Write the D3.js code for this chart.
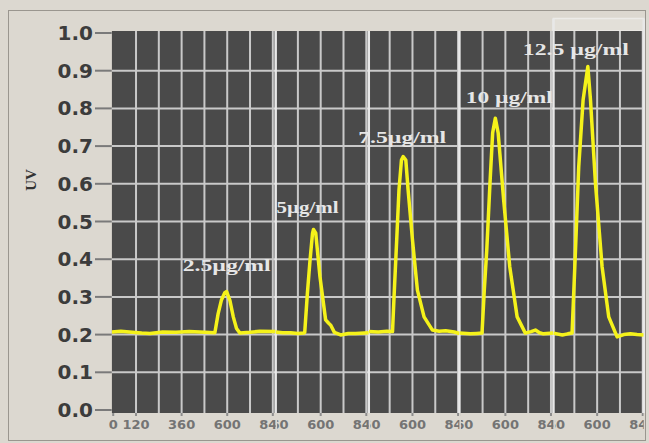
<!DOCTYPE html>
<html>
<head>
<meta charset="utf-8">
<script src="https://cdn.jsdelivr.net/npm/d3@7"></script>
<style>
  html, body { margin: 0; padding: 0; background: #dcd8d0; }
  svg { display: block; }
</style>
</head>
<body>
<div id="chart"></div>
<script>
'use strict';

// concentration labels, one per run
var concLabels = ["2.5µg/ml", "5µg/ml", "7.5µg/ml", "10 µg/ml", "12.5 µg/ml"];

// visible time window of each run (the later runs were cropped)
var runWindows = [[-8, 855], [363, 853], [370, 847], [358, 853], [370, 845]];

// tick labels along the bottom of each run
var runTicks = [[0, 120, 360, 600, 840], [360, 600, 840], [360, 600, 840], [360, 600, 840], [360, 600, 840]];

var yTicks = [0, 0.1, 0.2, 0.3, 0.4, 0.5, 0.6, 0.7, 0.8, 0.9, 1.0];

// traces: [time, UV]
var trace2_5 = [[-8, 0.207], [40, 0.209], [100, 0.206], [150, 0.204], [193, 0.203], [260, 0.207],
    [330, 0.206], [400, 0.208], [456, 0.207], [535, 0.205], [552, 0.255], [569, 0.291], [587, 0.311],
    [597, 0.314], [614, 0.291], [632, 0.247], [649, 0.216], [667, 0.204], [720, 0.206], [772, 0.209], [855, 0.208]];

var trace5 = [[363, 0.207], [400, 0.205], [442, 0.205], [480, 0.203], [511, 0.204], [516, 0.206],
    [530, 0.31], [544, 0.398], [557, 0.469], [562, 0.479], [574, 0.469], [596, 0.354], [626, 0.239],
    [642, 0.23], [653, 0.225], [672, 0.206], [705, 0.199], [745, 0.203], [784, 0.203], [853, 0.205]];

var trace7_5 = [[370, 0.208], [420, 0.207], [465, 0.209], [495, 0.208], [503, 0.30], [517, 0.451],
    [529, 0.584], [542, 0.663], [551, 0.672], [565, 0.663], [577, 0.584], [600, 0.451], [626, 0.318],
    [661, 0.247], [705, 0.212], [740, 0.209], [775, 0.21], [820, 0.207], [847, 0.203]];

var trace10 = [[358, 0.204], [416, 0.202], [450, 0.203], [477, 0.204], [489, 0.318], [502, 0.424],
    [519, 0.602], [533, 0.735], [547, 0.774], [562, 0.735], [591, 0.557], [623, 0.38], [662, 0.247],
    [705, 0.204], [735, 0.208], [758, 0.212], [780, 0.205], [800, 0.202], [853, 0.204]];

var trace12_5 = [[370, 0.204], [417, 0.199], [445, 0.202], [468, 0.204], [486, 0.424], [503, 0.645],
    [526, 0.822], [551, 0.911], [565, 0.822], [591, 0.602], [626, 0.38], [661, 0.247], [705, 0.194],
    [740, 0.2], [775, 0.202], [810, 0.2], [845, 0.199]];

var traces = [trace2_5, trace5, trace7_5, trace10, trace12_5];

// label offsets from each peak top and label width (px), layout only
var labelNudge = [[0, -21, 88], [-6, -16, 62], [-1, -14, 88], [14, -15, 87], [-12, -12, 106]];

// constants
var width = 649,
    height = 443,
    plotLeft = 111.7,
    plotTop = 31,
    plotBottom = 413,
    pxPerUnit = 0.19;

var svg = d3.select("#chart").append("svg")
    .attr("width", width)
    .attr("height", height);

svg.append("rect")
    .attr("width", width).attr("height", height)
    .style("fill", "#dcd8d0");

// outer frame of the screenshot
svg.append("rect")
    .attr("x", 8.5).attr("y", 10.5)
    .attr("width", 637).attr("height", 430)
    .style("fill", "none")
    .style("stroke", "#9a968f")
    .style("stroke-width", 1);

var y = d3.scaleLinear().domain([0, 1]).range([410, 33]);

// one x scale per run, laid side by side
var xScales = [], x0 = plotLeft;
runWindows.forEach(function (w) {
    var w1 = x0 + (w[1] - w[0]) * pxPerUnit;
    xScales.push(d3.scaleLinear().domain(w).range([x0, w1]));
    x0 = w1;
});
var plotRight = x0;

// light header box over the last run
svg.append("rect")
    .attr("x", xScales[4].range()[0]).attr("y", 18.5)
    .attr("width", plotRight - xScales[4].range()[0]).attr("height", plotTop - 18.5)
    .style("fill", "#e2dfd8")
    .style("stroke", "#ecebe8")
    .style("stroke-width", 1.5);

var defs = svg.append("defs");

xScales.forEach(function (x, i) {
    var r = x.range();

    defs.append("clipPath").attr("id", "clip" + i)
        .append("rect")
        .attr("x", r[0]).attr("y", plotTop)
        .attr("width", r[1] - r[0]).attr("height", plotBottom - plotTop);

    defs.append("clipPath").attr("id", "tclip" + i)
        .append("rect")
        .attr("x", r[0] + (i > 0 ? 1.5 : -10)).attr("y", plotBottom)
        .attr("width", r[1] - r[0] - (i > 0 ? 1.5 : -10)).attr("height", 25);

    var g = svg.append("g").attr("clip-path", "url(#clip" + i + ")");

    g.append("rect")
        .attr("x", r[0]).attr("y", plotTop)
        .attr("width", r[1] - r[0]).attr("height", plotBottom - plotTop)
        .style("fill", "#4a4a4a");

    // vertical grid every 120
    var vgrid = d3.range(120, 841, 120).filter(function (t) {
        return t > x.domain()[0] + 5 && t < x.domain()[1];
    });
    g.selectAll("line.vg").data(vgrid).enter().append("line")
        .attr("class", "vg")
        .attr("x1", x).attr("x2", x)
        .attr("y1", plotTop).attr("y2", plotBottom)
        .style("stroke", "#c9c9c9")
        .style("stroke-width", 2);

    // horizontal grid
    g.selectAll("line.hg").data(yTicks.slice(1, 10)).enter().append("line")
        .attr("class", "hg")
        .attr("x1", r[0]).attr("x2", r[1])
        .attr("y1", y).attr("y2", y)
        .style("stroke", "#c9c9c9")
        .style("stroke-width", 2);

    // bottom ticks + labels, clipped like the cropped runs
    var tg = svg.append("g").attr("clip-path", "url(#tclip" + i + ")");
    tg.selectAll("line").data(runTicks[i]).enter().append("line")
        .attr("x1", x).attr("x2", x)
        .attr("y1", plotBottom).attr("y2", plotBottom + 3)
        .style("stroke", "#8d8d8d")
        .style("stroke-width", 2);
    tg.selectAll("text").data(runTicks[i]).enter().append("text")
        .attr("x", x)
        .attr("y", 429)
        .style("text-anchor", "middle")
        .style("font-family", "DejaVu Sans, sans-serif")
        .style("font-size", "13px")
        .style("font-weight", "bold")
        .style("fill", "#747474")
        .text(function (d) { return d; });
});

// run boundaries
xScales.forEach(function (x, i) {
    var xr = x.range()[1];
    svg.append("line")
        .attr("x1", xr).attr("x2", xr)
        .attr("y1", i >= 3 ? 18.5 : plotTop).attr("y2", plotBottom)
        .style("stroke", "#e8e8e8")
        .style("stroke-width", 2.5);
});

// traces
var line = d3.line();
traces.forEach(function (tr, i) {
    var x = xScales[i];
    line.x(function (d) { return x(d[0]); })
        .y(function (d) { return y(d[1]); });

    svg.append("g").attr("clip-path", "url(#clip" + i + ")")
        .append("path")
        .datum(tr)
        .attr("d", line)
        .style("fill", "none")
        .style("stroke", "#f5f21a")
        .style("stroke-width", 3.5)
        .style("stroke-linejoin", "round");

    // label over peak top, stretched like the screenshot
    var top = tr.reduce(function (a, b) { return b[1] > a[1] ? b : a; });
    var n = labelNudge[i];
    svg.append("text")
        .attr("x", x(top[0]) + n[0])
        .attr("y", y(top[1]) + n[1])
        .attr("textLength", n[2])
        .attr("lengthAdjust", "spacingAndGlyphs")
        .style("text-anchor", "middle")
        .style("font-family", "Liberation Serif, serif")
        .style("font-size", "16px")
        .style("font-weight", "bold")
        .style("fill", "#e6e6e6")
        .text(concLabels[i]);
});

// y axis
var ya = svg.append("g");
ya.selectAll("line").data(yTicks).enter().append("line")
    .attr("x1", 95).attr("x2", plotLeft)
    .attr("y1", y).attr("y2", y)
    .style("stroke", "#7a7a7a")
    .style("stroke-width", 2);
ya.selectAll("text").data(yTicks).enter().append("text")
    .attr("x", 93)
    .attr("y", function (d) { return y(d) + 7; })
    .style("text-anchor", "end")
    .style("font-family", "DejaVu Sans, sans-serif")
    .style("font-size", "20px")
    .style("font-weight", "bold")
    .style("fill", "#3c3c3c")
    .text(d3.format(".1f"));

svg.append("text")
    .attr("transform", "translate(36," + y(0.61) + ") rotate(-90)")
    .style("text-anchor", "middle")
    .style("font-family", "Liberation Serif, serif")
    .style("font-size", "15px")
    .style("font-weight", "bold")
    .style("fill", "#333")
    .text("UV");
</script>
</body>
</html>
